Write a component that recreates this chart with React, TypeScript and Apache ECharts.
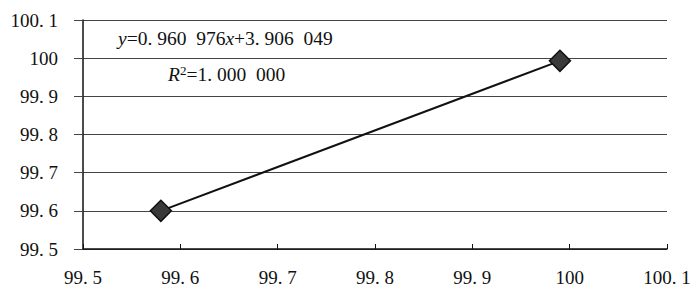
import React, { useEffect, useRef } from "react";
import * as echarts from "echarts";

const xValues = [99.58, 99.99];
const yValues = [99.6, 99.993];
const axisMin = 99.5;
const axisMax = 100.1;
const axisStep = 0.1;
const equationText = ["0. 960  976", "+3. 906  049"];
const r2Text = "=1. 000  000";

const fmt = (v: number) => {
  const s = String(Math.round(v * 10) / 10);
  return s.replace(".", ". ");
};

export default function App() {
  const ref = useRef<HTMLDivElement>(null);
  useEffect(() => {
    if (!ref.current) return;
    const chart = echarts.init(ref.current, undefined, { renderer: "svg" });
    const font = "'Liberation Serif', serif";
    chart.setOption({
      animation: false,
      backgroundColor: "#ffffff",
      grid: { left: 83, right: 28, top: 20, bottom: 35 },
      xAxis: {
        type: "value",
        min: axisMin,
        max: axisMax,
        interval: axisStep,
        axisLine: { show: true, onZero: false, lineStyle: { color: "#111", width: 1.5 } },
        axisTick: { show: true, inside: true, length: 5, lineStyle: { color: "#111" } },
        splitLine: { show: false },
        axisLabel: {
          margin: 19,
          color: "#111",
          fontSize: 19,
          fontFamily: font,
          formatter: fmt,
        },
      },
      yAxis: {
        type: "value",
        min: axisMin,
        max: axisMax,
        interval: axisStep,
        axisLine: { show: true, onZero: false, lineStyle: { color: "#111", width: 1.5 } },
        axisTick: { show: true, length: 9, lineStyle: { color: "#444" } },
        splitLine: { show: true, lineStyle: { color: "#444", width: 1.2 } },
        axisLabel: {
          margin: 25,
          color: "#111",
          fontSize: 19,
          fontFamily: font,
          formatter: fmt,
        },
      },
      series: [
        {
          type: "line",
          data: xValues.map((x, i) => [x, yValues[i]]),
          symbol: "diamond",
          symbolSize: 21,
          lineStyle: { color: "#111", width: 2 },
          itemStyle: { color: "#3a3a3a", borderColor: "#111", borderWidth: 1.5 },
          z: 5,
        },
      ],
      graphic: [
        {
          type: "text",
          left: 118,
          top: 28,
          style: {
            text: `{i|y}{n|=${equationText[0]}}{i|x}{n|${equationText[1]}}`,
            rich: {
              i: { fontFamily: font, fontStyle: "italic", fontSize: 19.5, fill: "#111" },
              n: { fontFamily: font, fontSize: 19.5, fill: "#111" },
            },
          },
        },
        {
          type: "text",
          left: 168,
          top: 64,
          style: {
            text: `{i|R}{s|2}{n|${r2Text}}`,
            rich: {
              i: { fontFamily: font, fontStyle: "italic", fontSize: 19.5, fill: "#111" },
              s: { fontFamily: font, fontSize: 13, fill: "#111", verticalAlign: "top", padding: [0, 0, 7, 0] },
              n: { fontFamily: font, fontSize: 19.5, fill: "#111" },
            },
          },
        },
      ],
    });
    return () => chart.dispose();
  }, []);
  return <div ref={ref} style={{ width: 695, height: 287, position: "absolute", left: 0, top: 0 }} />;
}
